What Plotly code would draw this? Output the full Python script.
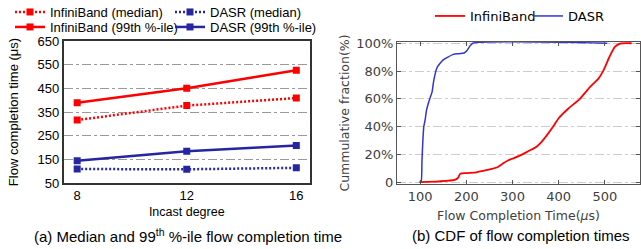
import plotly.graph_objects as go

# ---- Data: left panel (median / 99th percentile FCT vs incast degree) ----
incast_degree = [8, 12, 16]
ib_median = [316, 377, 409]
dasr_median = [109, 108, 114]
ib_p99 = [389, 450, 526]
dasr_p99 = [144, 184, 208]

left_yticks = [50, 150, 250, 350, 450, 550, 650]

# ---- Data: right panel (CDF of flow completion times) ----
dasr_cdf_x = [98, 102, 104, 106, 108, 111, 114, 118, 122, 126, 129, 132, 136, 142,
              150, 160, 172, 185, 195, 202, 208, 214, 505]
dasr_cdf_y = [0, 0, 15, 30, 40, 45, 52, 57, 61, 65, 72, 77, 82, 85,
              88, 90, 92, 92.5, 93, 95, 98, 100, 100]
ib_cdf_x = [100, 140, 175, 182, 187, 200, 222, 245, 266, 278, 290, 316, 333, 352,
            363, 375, 388, 400, 421, 446, 468, 486, 497, 511, 522, 533, 558]
ib_cdf_y = [0, 0.5, 1.5, 3, 6, 6.5, 7, 8.7, 10.5, 13, 15.5, 19, 22, 25.5,
            29, 34, 40, 46, 53, 60, 68.5, 74.5, 80.5, 91, 97.5, 99.8, 100]

right_xticks = [100, 200, 300, 400, 500]
right_yticks = [0, 20, 40, 60, 80, 100]
right_yticklabels = ["0", "20%", "40%", "60%", "80%", "100%"]

W, H = 641, 249
RED = "#ff0000"
NAVY = "#2626a0"
BLUE = "#3434d4"
ARIAL = "Liberation Sans, Arial, sans-serif"
DEJAVU = "DejaVu Sans, sans-serif"
GREY_TXT = "#404040"


def px(x):
    return x / W


def py(y):
    return 1 - y / H


fig = go.Figure()

# Left panel traces, each in its own one-item legend (2x2 grid)
fig.add_trace(go.Scatter(x=incast_degree, y=ib_median, name="InfiniBand (median)",
                         mode="lines+markers", line=dict(color=RED, width=2.5, dash="2px,2px"),
                         marker=dict(symbol="square", size=7, color=RED),
                         xaxis="x", yaxis="y", legend="legend"))
fig.add_trace(go.Scatter(x=incast_degree, y=dasr_median, name="DASR (median)",
                         mode="lines+markers", line=dict(color=NAVY, width=2.5, dash="2px,2px"),
                         marker=dict(symbol="square", size=7, color=NAVY),
                         xaxis="x", yaxis="y", legend="legend2"))
fig.add_trace(go.Scatter(x=incast_degree, y=ib_p99, name="InfiniBand (99th %-ile)",
                         mode="lines+markers", line=dict(color=RED, width=2.5),
                         marker=dict(symbol="square", size=7, color=RED),
                         xaxis="x", yaxis="y", legend="legend3"))
fig.add_trace(go.Scatter(x=incast_degree, y=dasr_p99, name="DASR (99th %-ile)",
                         mode="lines+markers", line=dict(color=NAVY, width=2.5),
                         marker=dict(symbol="square", size=7, color=NAVY),
                         xaxis="x", yaxis="y", legend="legend4"))

# Right panel traces
fig.add_trace(go.Scatter(x=ib_cdf_x, y=ib_cdf_y, name="InfiniBand", mode="lines",
                         line=dict(color=RED, width=1.8, shape="spline", smoothing=0.6),
                         xaxis="x2", yaxis="y2", legend="legend5"))
fig.add_trace(go.Scatter(x=dasr_cdf_x, y=dasr_cdf_y, name="DASR", mode="lines",
                         line=dict(color=BLUE, width=1.5, shape="spline", smoothing=0.6),
                         xaxis="x2", yaxis="y2", legend="legend6"))


def leg(x, y, font):
    return dict(orientation="h", x=px(x), y=py(y), xanchor="left", yanchor="middle",
                bgcolor="rgba(0,0,0,0)", font=font, itemwidth=30, borderwidth=0)


lfont = dict(family=ARIAL, size=13, color="black")
rfont = dict(family=DEJAVU, size=13, color="black")

fig.update_layout(
    width=W, height=H,
    margin=dict(l=0, r=0, t=0, b=0, autoexpand=False),
    paper_bgcolor="white", plot_bgcolor="white",
    showlegend=True,
    xaxis=dict(domain=[px(63.5), px(310)], range=[7.5, 16.5], tickvals=incast_degree,
               showgrid=False, zeroline=False, showline=True, mirror=True,
               linecolor="#333333", linewidth=1.5, ticks="",
               tickfont=dict(family=ARIAL, size=13, color="black"),
               title=dict(text="Incast degree", font=dict(family=ARIAL, size=12.5, color="black"),
                          standoff=5),
               anchor="y"),
    yaxis=dict(domain=[py(183), py(41)], range=[50, 650], tickvals=left_yticks,
               showgrid=True, gridcolor="#9a9a9a", griddash="dashdot", gridwidth=1,
               zeroline=False, showline=True, mirror=True,
               linecolor="#333333", linewidth=1.5, ticks="",
               tickfont=dict(family=ARIAL, size=13, color="black"),
               title=dict(text="Flow completion time (μs)", font=dict(family=ARIAL, size=13, color="black"),
                          standoff=16),
               anchor="x"),
    xaxis2=dict(domain=[px(397), px(640)], range=[50, 576], tickvals=right_xticks,
                showgrid=False, zeroline=False, showline=True, mirror="ticks",
                linecolor="#555555", linewidth=1, ticks="inside", ticklen=4, tickcolor="#555555",
                tickfont=dict(family=DEJAVU, size=13, color=GREY_TXT),
                title=dict(text="Flow Completion Time(<i>μ</i>s)",
                           font=dict(family=DEJAVU, size=12.5, color=GREY_TXT), standoff=8),
                anchor="y2"),
    yaxis2=dict(domain=[py(184), py(42)], range=[-1.4, 100.9], tickvals=right_yticks,
                ticktext=right_yticklabels,
                showgrid=True, gridcolor="#cccccc", griddash="dashdot", gridwidth=1,
                zeroline=False, showline=True, mirror="ticks",
                linecolor="#555555", linewidth=1, ticks="inside", ticklen=4, tickcolor="#555555",
                tickfont=dict(family=DEJAVU, size=13, color=GREY_TXT),
                title=dict(text="Cummulative fraction(%)",
                           font=dict(family=DEJAVU, size=12.5, color=GREY_TXT), standoff=3),
                anchor="x2"),
    legend=leg(10, 12, lfont),
    legend2=leg(170, 12, lfont),
    legend3=leg(10, 27, lfont),
    legend4=leg(170, 27, lfont),
    legend5=leg(430, 16, rfont),
    legend6=leg(528, 16, rfont),
    annotations=[
        dict(text="(a) Median and 99<sup>th</sup> %-ile flow completion time",
             x=px(188), y=py(235), xref="paper", yref="paper", showarrow=False,
             xanchor="center", yanchor="middle",
             font=dict(family=ARIAL, size=15, color="black")),
        dict(text="(b) CDF of flow completion times",
             x=px(521), y=py(235), xref="paper", yref="paper", showarrow=False,
             xanchor="center", yanchor="middle",
             font=dict(family=ARIAL, size=15, color="black")),
    ],
)

fig.write_html("out.html", config={"displayModeBar": False},
               post_script="document.body.style.margin='0';document.body.style.overflow='hidden';")
